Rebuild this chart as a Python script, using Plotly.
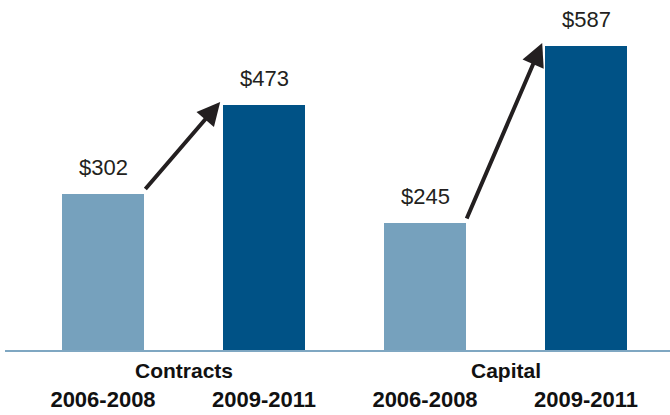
import plotly.graph_objects as go

groups = ["Contracts", "Capital"]
periods = ["2006-2008", "2009-2011", "2006-2008", "2009-2011"]
values = [302, 473, 245, 587]
labels = ["$302", "$473", "$245", "$587"]
colors = ["#76a1bd", "#005286", "#76a1bd", "#005286"]

xpos = list(range(len(values)))

fig = go.Figure()
fig.add_trace(go.Bar(
    x=xpos, y=values, width=0.51,
    marker=dict(color=colors, line=dict(width=0)),
    hoverinfo="skip",
))

annotations = []
# value labels
for x, v, t in zip(xpos, values, labels):
    annotations.append(dict(
        x=x, y=v, xref="x", yref="y", text=t, showarrow=False,
        yanchor="bottom", yshift=12,
        font=dict(family="Liberation Sans, Arial, sans-serif", size=22, color="#231f20"),
    ))
# growth arrows between the two periods of each group
for g in range(len(groups)):
    i0, i1 = 2 * g, 2 * g + 1
    annotations.append(dict(
        x=i1 - 0.272, y=values[i1] + 6, xref="x", yref="y",
        ax=i0 + 0.255, ay=values[i0] + 6, axref="x", ayref="y",
        text="", showarrow=True, arrowhead=2, arrowsize=1.15,
        arrowwidth=4, arrowcolor="#231f20", standoff=0, startstandoff=0,
    ))
# group labels
for g, name in enumerate(groups):
    annotations.append(dict(
        x=2 * g + 0.5, y=-0.02, xref="x", yref="paper", text="<b>%s</b>" % name,
        showarrow=False, yanchor="top",
        font=dict(family="Liberation Sans, Arial, sans-serif", size=21, color="#111111"),
    ))

fig.update_layout(
    width=670, height=415,
    margin=dict(l=5, r=0, t=0, b=65),
    paper_bgcolor="white", plot_bgcolor="white",
    showlegend=False,
    annotations=annotations,
    bargap=0,
)
fig.update_xaxes(
    range=[-0.6087, 3.5217],
    tickvals=xpos, ticktext=["<b>%s</b>" % p for p in periods],
    tickfont=dict(family="Liberation Sans, Arial, sans-serif", size=22, color="#111111"),
    ticks="", showgrid=False, zeroline=False,
    showline=True, linecolor="#7fa7c2", linewidth=1.5,
    ticklabelstandoff=29, automargin=False,
)
fig.update_yaxes(range=[0, 676], visible=False, showgrid=False, zeroline=False)

fig.write_html(
    "out.html",
    config={"displayModeBar": False},
    post_script="document.body.style.margin='0';document.body.style.overflow='hidden';",
)
